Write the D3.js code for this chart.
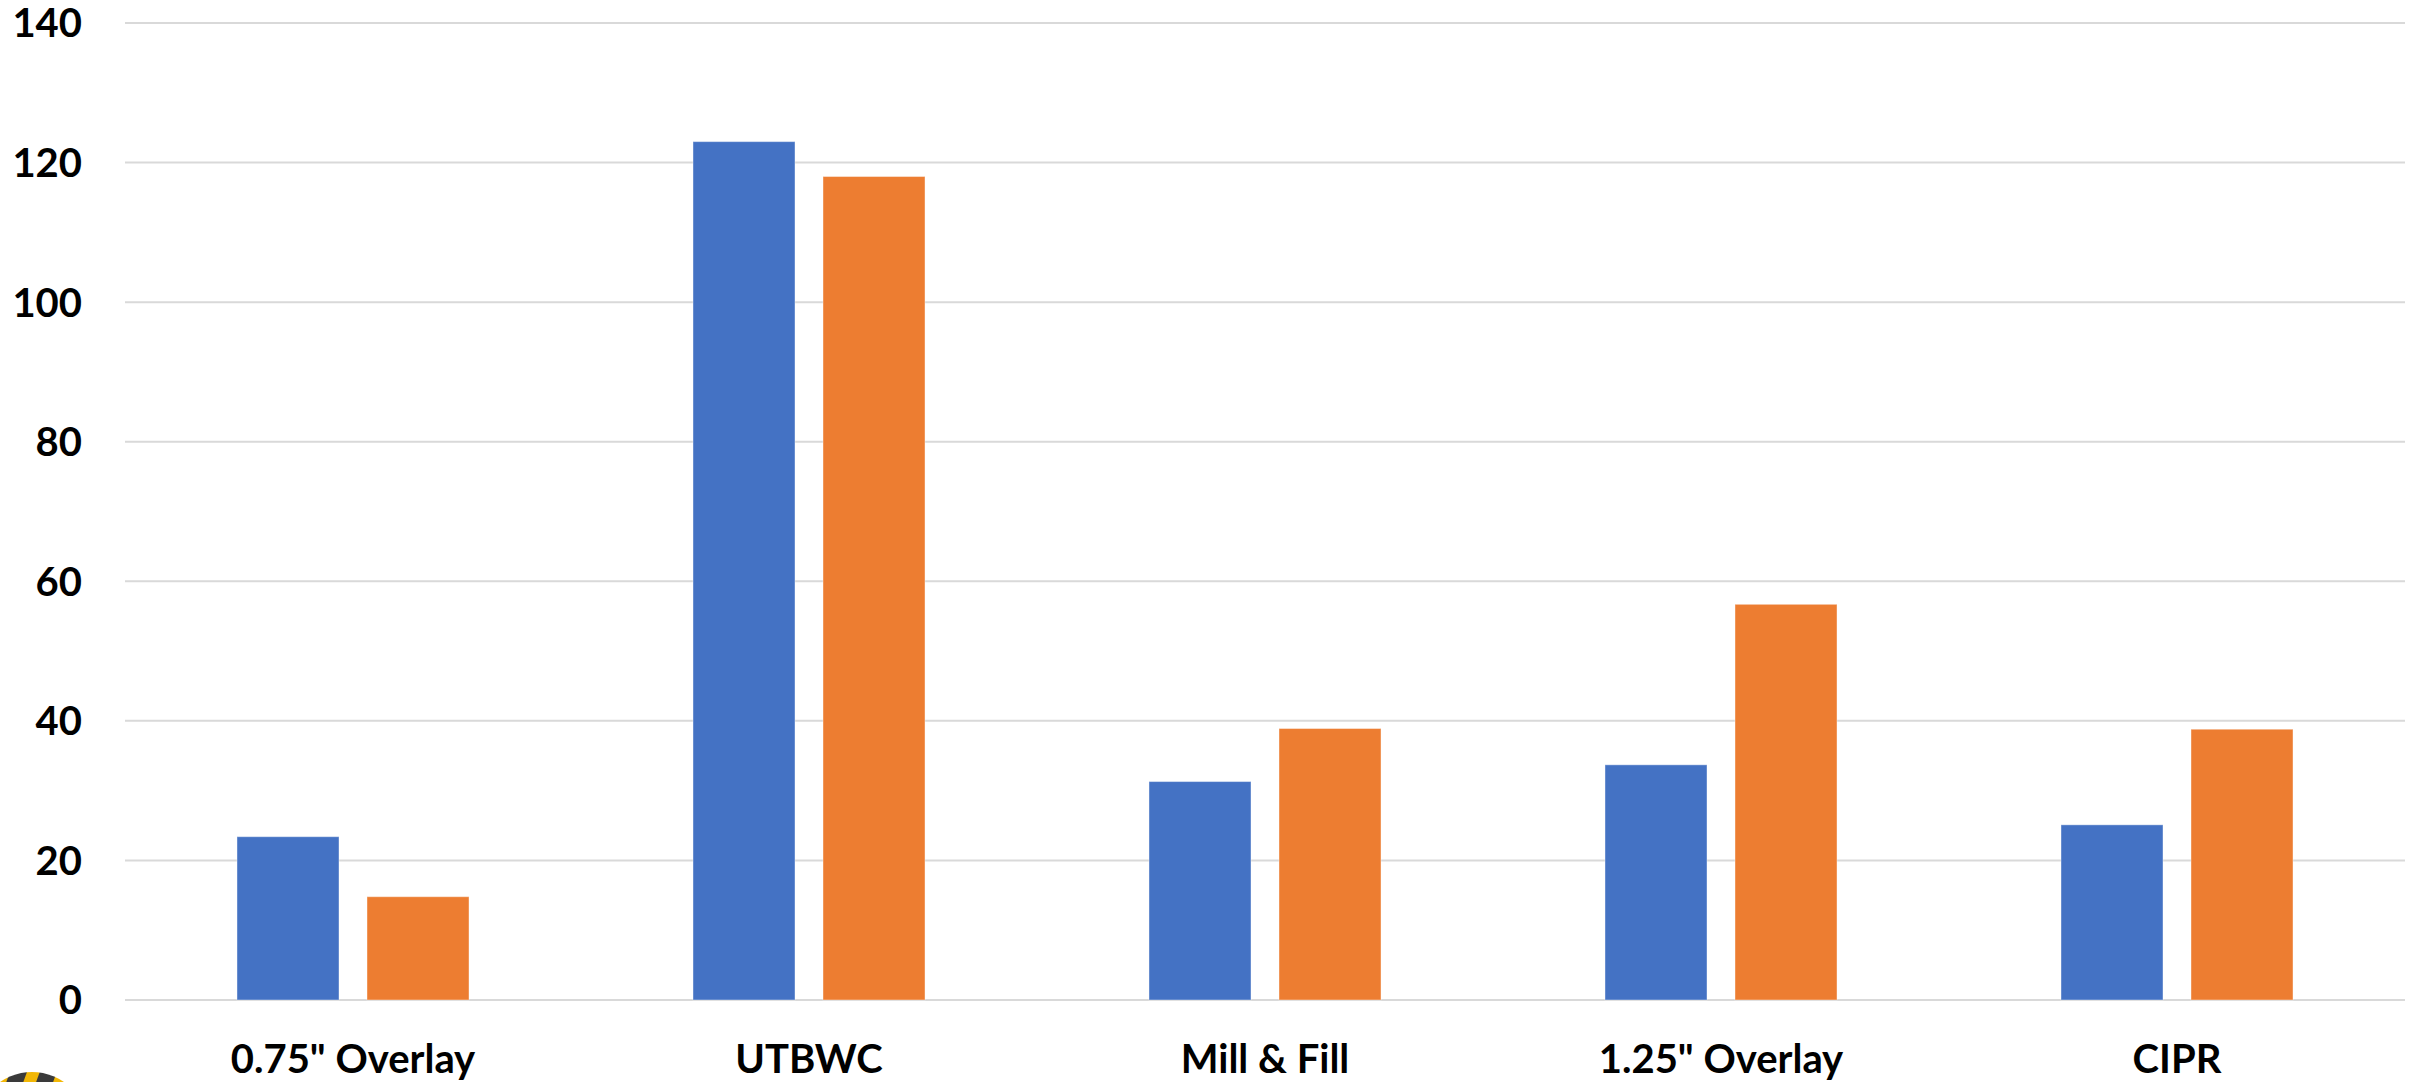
<!DOCTYPE html>
<html>
<head>
<meta charset="utf-8">
<script src="https://cdn.jsdelivr.net/npm/d3@7"></script>
<style>
  html, body { margin: 0; padding: 0; background: #fff; }
  text { font-family: Lato, "Open Sans", sans-serif; font-weight: bold; fill: #000; }
</style>
</head>
<body>
<div id="chart"></div>
<script>
var categories = ['0.75" Overlay', "UTBWC", "Mill & Fill", '1.25" Overlay', "CIPR"]
var seriesNames = ["Series A", "Series B"]
var seriesA = [23.4, 123.0, 31.3, 33.7, 25.1]
var seriesB = [14.8, 118.0, 38.9, 56.7, 38.8]
var yTicks = [0, 20, 40, 60, 80, 100, 120, 140]
var colors = ["#4472C4", "#ED7D31"]

var width = 2425, height = 1082
var plotLeft = 125, plotRight = 2405, plotTop = 23, plotBottom = 1000

var svg = d3.select("#chart").append("svg")
    .attr("width", width)
    .attr("height", height)

var y = d3.scaleLinear().domain([0, 140]).range([plotBottom, plotTop])
var x0 = d3.scaleBand().domain(categories).range([plotLeft, plotRight])
var x1 = d3.scaleBand().domain(seriesNames)
    .range([0, x0.bandwidth()])
    .paddingInner(28/130)
    .paddingOuter(0.8615)

// gridlines
svg.selectAll("line.grid")
    .data(yTicks)
  .enter().append("line")
    .attr("class", "grid")
    .attr("x1", plotLeft)
    .attr("x2", plotRight)
    .attr("y1", function(d) { return y(d) })
    .attr("y2", function(d) { return y(d) })
    .style("stroke", "#d9d9d9")
    .style("stroke-width", 2)

// y labels
svg.selectAll("text.ytick")
    .data(yTicks)
  .enter().append("text")
    .attr("class", "ytick")
    .attr("x", 82)
    .attr("y", function(d) { return y(d) })
    .attr("dy", "0.36em")
    .attr("text-anchor", "end")
    .style("font-size", "40px")
    .text(function(d) { return d })

var rows = categories.map(function(c, i) {
  return { cat: c, vals: [seriesA[i], seriesB[i]] }
})

var groups = svg.selectAll("g.group")
    .data(rows)
  .enter().append("g")
    .attr("class", "group")
    .attr("transform", function(d) { return "translate(" + x0(d.cat) + ",0)" })

groups.selectAll("rect")
    .data(function(d) { return d.vals.map(function(v, j) { return { s: seriesNames[j], v: v, j: j } }) })
  .enter().append("rect")
    .attr("x", function(d) { return x1(d.s) })
    .attr("width", x1.bandwidth())
    .attr("y", function(d) { return y(d.v) })
    .attr("height", function(d) { return y(0) - y(d.v) })
    .style("fill", function(d) { return colors[d.j] })
    .style("stroke", "#fff")
    .style("stroke-opacity", 0.4)
    .style("stroke-width", 1)

// category labels
svg.selectAll("text.cat")
    .data(categories)
  .enter().append("text")
    .attr("class", "cat")
    .attr("x", function(d) { return x0(d) + x0.bandwidth()/2 })
    .attr("y", 1073)
    .attr("text-anchor", "middle")
    .style("font-size", "40px")
    .text(function(d) { return d })

// partial logo in the bottom left corner
var defs = svg.append("defs")
var pat = defs.append("pattern")
    .attr("id", "stripes")
    .attr("patternUnits", "userSpaceOnUse")
    .attr("width", 28)
    .attr("height", 28)
    .attr("patternTransform", "rotate(20)")
pat.append("rect").attr("width", 28).attr("height", 28).style("fill", "#3a3a3a")
pat.append("rect").attr("width", 12).attr("height", 28).style("fill", "#f2b705")
svg.append("circle")
    .attr("cx", 32)
    .attr("cy", 1128)
    .attr("r", 56)
    .style("fill", "url(#stripes)")
</script>
</body>
</html>
